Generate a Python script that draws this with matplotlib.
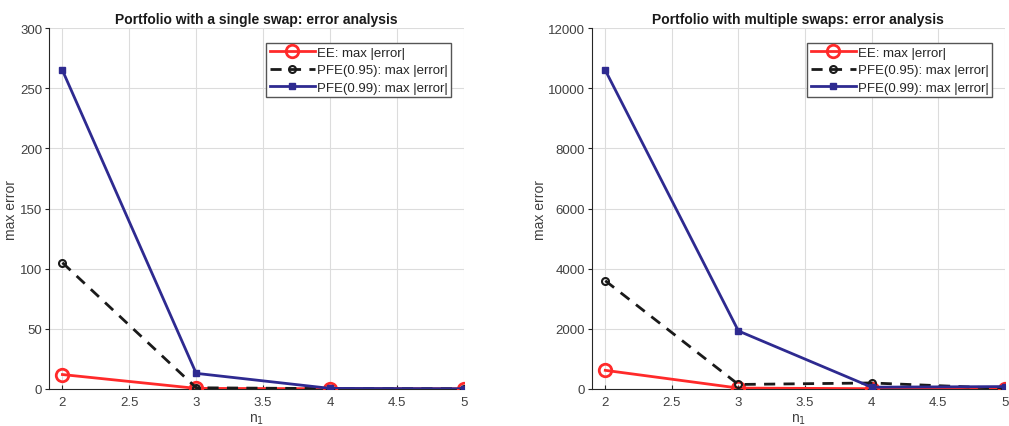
import matplotlib
matplotlib.use('Agg')
import matplotlib.pyplot as plt
import numpy as np

# n_1 values
n1 = [2, 3, 4, 5]

# single swap portfolio
single_ee = [12, 0.5, 0.2, 0.1]
single_pfe95 = [105, 1.0, 0.3, 0.2]
single_pfe99 = [265, 13, 0.5, 0.2]

# multiple swaps portfolio
multi_ee = [620, 30, 10, 5]
multi_pfe95 = [3600, 150, 200, 20]
multi_pfe99 = [10600, 1930, 60, 80]

titles = ['Portfolio with a single swap: error analysis',
          'Portfolio with multiple swaps: error analysis']
ylims = [(0, 300), (0, 12000)]
yticks = [np.arange(0, 301, 50), np.arange(0, 12001, 2000)]

plt.rcParams['font.family'] = ['Liberation Sans', 'DejaVu Sans']

fig = plt.figure(figsize=(10.09, 4.27), dpi=100)
ax1 = fig.add_axes([0.0486, 0.0867, 0.411, 0.845])
ax2 = fig.add_axes([0.5867, 0.0867, 0.409, 0.845])

grey = '#262626'
tick_grey = '#404040'
data = [(single_ee, single_pfe95, single_pfe99),
        (multi_ee, multi_pfe95, multi_pfe99)]

for ax, (ee, p95, p99), title, yl, yt in zip(
        [ax1, ax2], data, titles, ylims, yticks):
    ax.plot(n1, ee, '-o', color='#ff2a2a', lw=2, ms=9, mfc='none', mew=2,
            label='EE: max |error|', zorder=3)
    ax.plot(n1, p95, '--o', color='#1a1a1a', lw=2, ms=5, mfc='none', mew=1.5,
            dashes=(4, 3), label='PFE(0.95): max |error|', zorder=3)
    ax.plot(n1, p99, '-s', color='#2e2a90', lw=2, ms=5,
            label='PFE(0.99): max |error|', zorder=4)
    ax.set_xlim(1.9, 5.0)
    ax.set_ylim(*yl)
    ax.set_xticks(np.arange(2, 5.01, 0.5))
    ax.set_xticklabels(['2', '2.5', '3', '3.5', '4', '4.5', '5'])
    ax.set_yticks(yt)
    ax.grid(True, color='#dcdcdc', lw=0.8)
    ax.set_axisbelow(True)
    for s in ['top', 'right']:
        ax.spines[s].set_visible(False)
    for s in ['left', 'bottom']:
        ax.spines[s].set_color(grey)
        ax.spines[s].set_linewidth(0.8)
    ax.tick_params(colors=grey, labelcolor=tick_grey, labelsize=9.5,
                   width=0.8)
    ax.tick_params(axis='y', direction='out', length=3, pad=2)
    ax.tick_params(axis='x', direction='in', length=3, pad=5)
    ax.set_title(title, fontsize=10, fontweight='bold', color='#1a1a1a',
                 pad=4)
    ax.set_xlabel(r'n$_1$', fontsize=10, color=tick_grey, labelpad=3)
    ax.set_ylabel('max error', fontsize=10, color=tick_grey, labelpad=1)
    leg = ax.legend(loc='upper right', bbox_to_anchor=(0.97, 0.958),
                    fontsize=9.5, fancybox=False, framealpha=1,
                    edgecolor='#555555', handlelength=3.4, borderpad=0.25,
                    labelspacing=0.4, handletextpad=0.2, borderaxespad=0)
    leg.get_frame().set_linewidth(1)
    for t in leg.get_texts():
        t.set_color(grey)

fig.savefig('out.png', dpi=100)
